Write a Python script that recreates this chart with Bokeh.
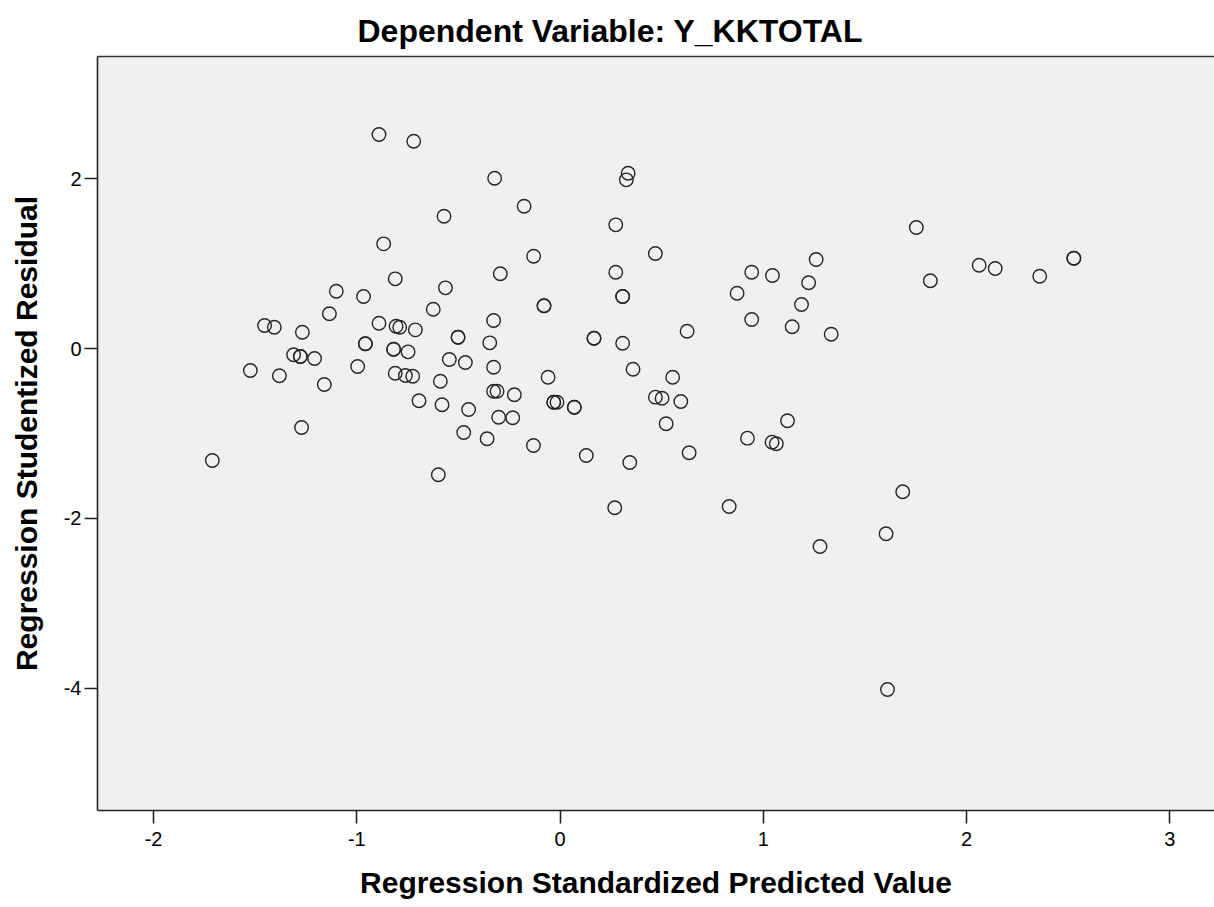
from bokeh.plotting import figure
from bokeh.models import FixedTicker, LinearAxis, Range1d
from bokeh.embed import file_html
from bokeh.resources import INLINE

title_text = "Dependent Variable: Y_KKTOTAL"
x_label = "Regression Standardized Predicted Value"
y_label = "Regression Studentized Residual"
x_ticks = [-2, -1, 0, 1, 2, 3]
y_ticks = [-4, -2, 0, 2]

pred = [-0.891, -0.720, -0.322, 0.335, 0.326, -0.571, -0.177, 0.274, -0.868, -0.811,
        -0.294, -1.101, -0.967, -0.564, -1.135, -0.624, -0.327, -1.454, -1.406, -1.268,
        -0.891, -0.807, -0.789, -0.712, -0.502, -0.502, -0.346, -0.958, -0.958, -1.311,
        -1.278, -1.278, -1.208, -0.819, -0.819, -0.748, -0.327, -1.524, -1.381, -0.996,
        -0.811, -0.761, -0.725, -0.545, -0.466, -1.160, -0.589, -0.327, -0.310, -0.694,
        -0.581, -0.450, -0.302, -0.474, -0.359, -1.272, -1.711, -0.599, -0.130, 0.469,
        0.274, 0.308, 0.308, -0.079, -0.079, 0.167, 0.167, 0.308, 0.625, 0.943,
        1.045, 0.871, 1.260, 1.223, 1.188, 0.943, 1.142, 1.334, 0.359, 0.554,
        -0.059, -0.225, -0.031, -0.031, -0.015, 0.070, 0.070, -0.233, 0.469, 0.502,
        0.594, 0.522, -0.131, 0.129, 0.343, 0.635, 0.922, 1.043, 1.064, 1.119,
        0.269, 0.832, 1.686, 1.604, 1.279, 1.611, 1.753, 1.822, 2.062, 2.141,
        2.360, 2.528, 2.528]

resid = [2.522, 2.443, 2.007, 2.066, 1.988, 1.559, 1.677, 1.458, 1.234, 0.822,
         0.881, 0.676, 0.614, 0.716, 0.410, 0.464, 0.331, 0.272, 0.252, 0.193,
         0.299, 0.264, 0.252, 0.221, 0.134, 0.134, 0.068, 0.057, 0.057, -0.073,
         -0.093, -0.093, -0.117, -0.007, -0.007, -0.038, -0.219, -0.258, -0.320, -0.211,
         -0.290, -0.317, -0.325, -0.128, -0.164, -0.423, -0.384, -0.502, -0.502, -0.615,
         -0.662, -0.717, -0.808, -0.988, -1.062, -0.929, -1.318, -1.486, 1.088, 1.120,
         0.900, 0.614, 0.614, 0.504, 0.504, 0.122, 0.122, 0.064, 0.205, 0.900,
         0.861, 0.653, 1.049, 0.775, 0.519, 0.343, 0.257, 0.170, -0.243, -0.337,
         -0.337, -0.544, -0.631, -0.631, -0.631, -0.690, -0.690, -0.815, -0.572, -0.584,
         -0.623, -0.886, -1.141, -1.259, -1.342, -1.227, -1.055, -1.102, -1.121, -0.850,
         -1.875, -1.860, -1.687, -2.181, -2.331, -4.015, 1.426, 0.799, 0.982, 0.943,
         0.853, 1.065, 1.065]

FONT = "Liberation Sans"

p = figure(width=1214, height=907, output_backend="svg", toolbar_location=None,
           x_range=Range1d(-2.276, 3.220), y_range=Range1d(-5.441, 3.441),
           min_border_left=97, min_border_right=0, min_border_top=56, min_border_bottom=97,
           background_fill_color="#f0f0f0", border_fill_color="white")
p.outline_line_color = None
p.grid.visible = False

p.title.text = title_text
p.title.text_font = FONT
p.title.text_font_size = "32px"
p.title.text_font_style = "bold"
p.title.text_color = "black"
p.title.align = "left"
p.title.offset = 260
p.title.standoff = 15

for ax, ticks, lab in ((p.xaxis[0], x_ticks, x_label), (p.yaxis[0], y_ticks, y_label)):
    ax.ticker = FixedTicker(ticks=ticks)
    ax.major_label_overrides = {t: str(t) for t in ticks}
    ax.axis_line_color = "#222222"
    ax.axis_line_width = 1.6
    ax.major_tick_line_color = "#222222"
    ax.major_tick_line_width = 1.6
    ax.major_tick_out = 13
    ax.major_tick_in = 0
    ax.minor_tick_line_color = None
    ax.major_label_text_font = FONT
    ax.major_label_text_font_size = "20px"
    ax.major_label_text_color = "black"
    ax.axis_label = lab
    ax.axis_label_text_font = FONT
    ax.axis_label_text_font_size = "30px"
    ax.axis_label_text_font_style = "bold"
    ax.axis_label_text_color = "black"

p.xaxis[0].major_label_standoff = 8
p.xaxis[0].axis_label_standoff = 17
p.yaxis[0].major_label_standoff = 3
p.yaxis[0].axis_label_standoff = 18

top = LinearAxis(ticker=FixedTicker(ticks=[]), major_label_text_font_size="0px",
                 major_tick_out=0, major_tick_in=0, minor_tick_line_color=None,
                 axis_line_color="#333333", axis_line_width=1.6)
p.add_layout(top, "above")

p.scatter(pred, resid, marker="circle", size=13.5, fill_color=None,
          line_color="#262626", line_width=1.4)

open("out.html", "w").write(file_html(p, INLINE))
